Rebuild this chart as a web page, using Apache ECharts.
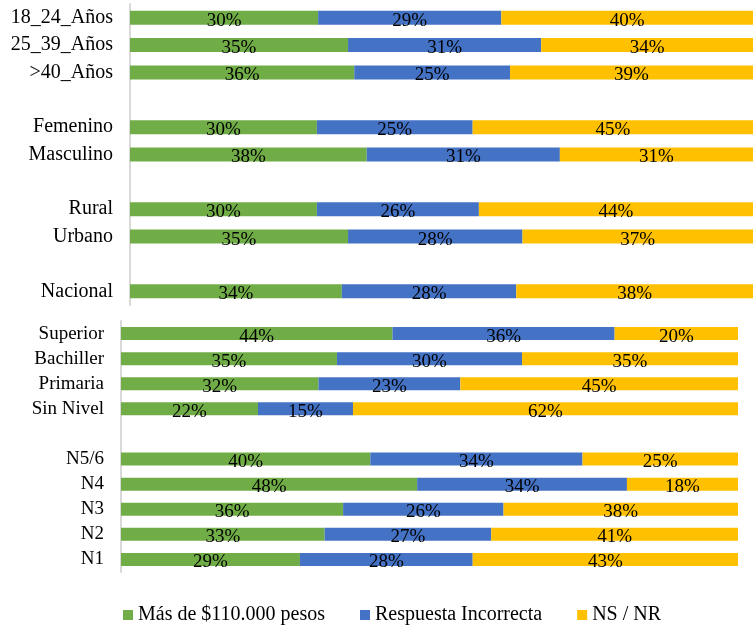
<!DOCTYPE html>
<html>
<head>
<meta charset="utf-8">
<script src="https://cdn.jsdelivr.net/npm/echarts@6/dist/echarts.min.js"></script>
<style>
  html, body { margin: 0; padding: 0; background: #fff; }
  #chart { width: 753px; height: 629px; }
</style>
</head>
<body>
<div id="chart"></div>
<script>
// panel de arriba: edad, sexo, zona, nacional ('' = fila vacia)
var topCats = ['18_24_Años', '25_39_Años', '>40_Años', '', 'Femenino', 'Masculino', '', 'Rural', 'Urbano', '', 'Nacional'];
var topMas = [30.2, 35, 36, null, 30, 38, null, 30, 35, null, 34];
var topInc = [29.4, 31, 25, null, 25, 31, null, 26, 28, null, 28];
var topNs = [40.4, 34, 39, null, 45, 31, null, 44, 37, null, 38];

// panel de abajo: nivel educativo y nivel socioeconomico
var botCats = ['Superior', 'Bachiller', 'Primaria', 'Sin Nivel', '', 'N5/6', 'N4', 'N3', 'N2', 'N1'];
var botMas = [44, 35, 32, 22.2, null, 40.4, 48, 36, 33, 29];
var botInc = [36, 30, 23, 15.4, null, 34.4, 34, 26, 27, 28];
var botNs = [20, 35, 45, 62.4, null, 25.2, 18, 38, 41, 43];

var names = ['Más de $110.000 pesos', 'Respuesta Incorrecta', 'NS / NR'];
var colors = ['#70AD47', '#4472C4', '#FFC000'];
var font = 'Liberation Serif';

var chart = echarts.init(document.getElementById('chart'));

function serie(i, grid, data, barW) {
	return {
		name: names[i],
		type: 'bar',
		stack: 'p' + grid,
		xAxisIndex: grid,
		yAxisIndex: grid,
		barWidth: barW,
		data: data,
		itemStyle: { color: colors[i] },
		label: {
			show: true,
			position: 'inside',
			offset: [0, 3],
			formatter: function (p) { return Math.round(p.value) + '%'; },
			color: '#000',
			fontFamily: font,
			fontSize: 19
		},
		emphasis: { disabled: true }
	};
}

chart.setOption({
	animation: false,
	legend: {
		left: 123,
		top: 605,
		padding: 0,
		icon: 'rect',
		itemWidth: 10,
		itemHeight: 10,
		itemGap: 35,
		data: names,
		textStyle: { fontFamily: font, fontSize: 20, color: '#000' }
	},
	grid: [
		{ left: 130, top: 4, width: 630, height: 301 },
		{ left: 121, top: 321, width: 617, height: 251 }
	],
	xAxis: [
		{ gridIndex: 0, type: 'value', min: 0, max: 100, show: false },
		{ gridIndex: 1, type: 'value', min: 0, max: 100, show: false }
	],
	yAxis: [
		{
			gridIndex: 0, type: 'category', inverse: true, data: topCats,
			axisLine: { lineStyle: { color: '#d9d9d9', width: 2 } },
			axisTick: { show: false },
			axisLabel: { interval: 0, margin: 17, padding: [5, 0, 0, 0], color: '#000', fontFamily: font, fontSize: 20 }
		},
		{
			gridIndex: 1, type: 'category', inverse: true, data: botCats,
			axisLine: { lineStyle: { color: '#d9d9d9', width: 2 } },
			axisTick: { show: false },
			axisLabel: { interval: 0, margin: 17, padding: [5, 0, 0, 0], color: '#000', fontFamily: font, fontSize: 19 }
		}
	],
	series: [
		serie(0, 0, topMas, 14),
		serie(1, 0, topInc, 14),
		serie(2, 0, topNs, 14),
		serie(0, 1, botMas, 13),
		serie(1, 1, botInc, 13),
		serie(2, 1, botNs, 13)
	]
});
</script>
</body>
</html>
